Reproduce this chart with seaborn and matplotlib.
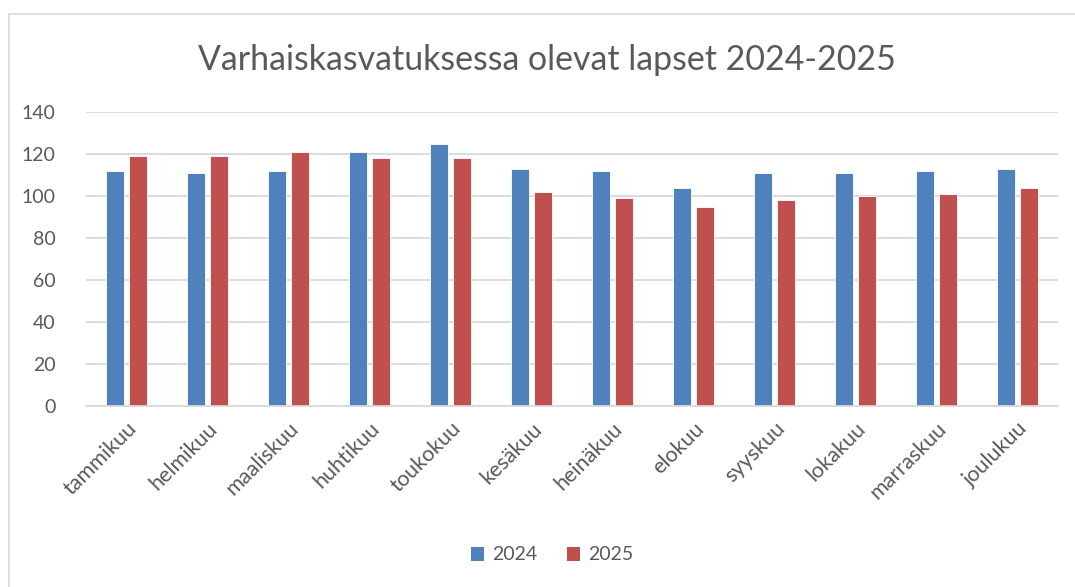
import matplotlib
matplotlib.use("Agg")
import matplotlib.pyplot as plt
import seaborn as sns
import pandas as pd
from matplotlib.lines import Line2D
from matplotlib.patches import Patch

months = ["tammikuu", "helmikuu", "maaliskuu", "huhtikuu", "toukokuu", "kesäkuu",
          "heinäkuu", "elokuu", "syyskuu", "lokakuu", "marraskuu", "joulukuu"]
values_2024 = [112, 111, 112, 121, 125, 113, 112, 104, 111, 111, 112, 113]
values_2025 = [119, 119, 121, 118, 118, 102, 99, 95, 98, 100, 101, 104]
series = ["2024", "2025"]
colors = ["#4F81BD", "#C0504D"]
title = "Varhaiskasvatuksessa olevat lapset 2024-2025"
yticks = [0, 20, 40, 60, 80, 100, 120, 140]

df = pd.DataFrame({
    "kuukausi": months * 2,
    "vuosi": [series[0]] * len(months) + [series[1]] * len(months),
    "lapset": values_2024 + values_2025,
})

sns.set_theme(style="white")
plt.rcParams["font.family"] = ["Lato", "DejaVu Sans"]
text_color = "#595959"

fig = plt.figure(figsize=(10.75, 5.87), dpi=100)
ax = fig.add_axes([86 / 1075, 1 - 406 / 587, (1058 - 86) / 1075, (406 - 112) / 587])

sns.barplot(data=df, x="kuukausi", y="lapset", hue="vuosi", order=months,
            hue_order=series, palette=colors, saturation=1, width=0.58, gap=0.23,
            edgecolor="white", linewidth=0.6, ax=ax, legend=False)

ax.set_ylim(0, 140)
ax.set_yticks(yticks)
ax.set_xlim(-0.5, len(months) - 0.5)
ax.yaxis.grid(True, color="#D9D9D9", linewidth=1.3)
ax.set_axisbelow(True)
for s in ["top", "right", "left"]:
    ax.spines[s].set_visible(False)
ax.spines["bottom"].set_color("#D9D9D9")
ax.spines["bottom"].set_linewidth(1.3)
ax.set_xlabel("")
ax.set_ylabel("")
ax.tick_params(axis="y", labelsize=14, colors=text_color, length=0, pad=22)
ax.tick_params(axis="x", labelsize=15.5, colors=text_color, length=0, pad=9)
for lbl in ax.get_xticklabels():
    lbl.set_rotation(45)
    lbl.set_ha("right")
    lbl.set_rotation_mode("anchor")

fig.text(547 / 1075, 1 - 60 / 587, title, ha="center", va="center",
         fontsize=24.4, color=text_color)

handles = [Patch(facecolor=c, edgecolor="none") for c in colors]
fig.legend(handles, series, loc="center", bbox_to_anchor=(552 / 1075, 1 - 555 / 587),
           ncol=2, frameon=False, fontsize=14, labelcolor=text_color,
           handlelength=0.7, handleheight=0.7, handletextpad=0.4, columnspacing=1.5)

# chart area border
fig.add_artist(Line2D([9 / 1075, 9 / 1075], [0, 1 - 14 / 587], color="#D9D9D9", lw=1.2,
                      transform=fig.transFigure))
fig.add_artist(Line2D([9 / 1075, 1], [1 - 14 / 587, 1 - 14 / 587], color="#D9D9D9", lw=1.2,
                      transform=fig.transFigure))

fig.savefig("out.png", dpi=100, facecolor="white")
